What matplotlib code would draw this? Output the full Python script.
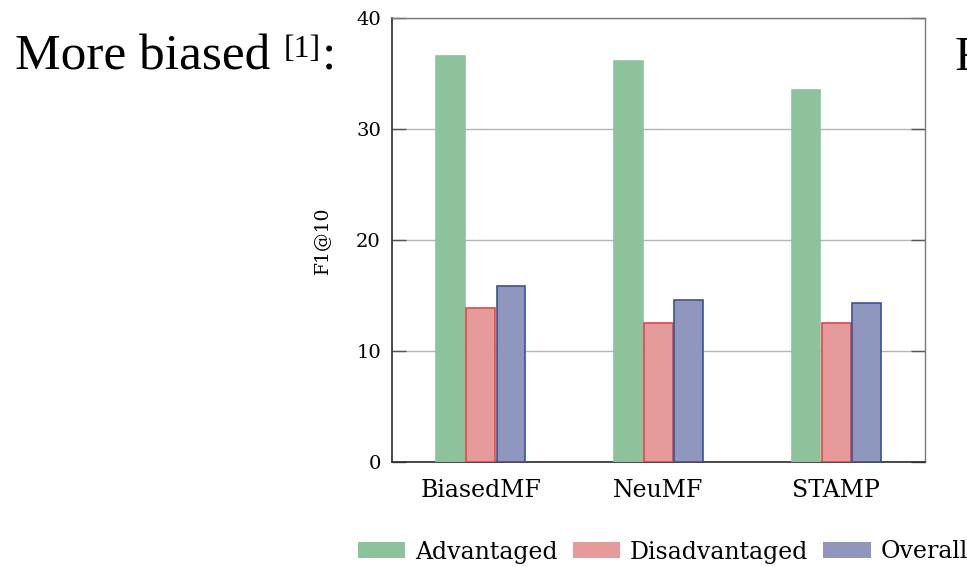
import numpy as np
import matplotlib
matplotlib.use("Agg")
import matplotlib.pyplot as plt
from matplotlib.patches import Patch

# Data
models = ["BiasedMF", "NeuMF", "STAMP"]
series_names = ["Advantaged", "Disadvantaged", "Overall"]
advantaged = [36.6, 36.1, 33.5]
disadvantaged = [13.85, 12.55, 12.55]
overall = [15.85, 14.6, 14.35]
yticks = [0, 10, 20, 30, 40]

fills = ["#8dc39a", "#e69b9b", "#9097be"]
edges = ["#8dc39a", "#e0474c", "#3b5194"]

W, H, DPI = 967, 567, 100
fig = plt.figure(figsize=(W / DPI, H / DPI), dpi=DPI)

ax = fig.add_axes([392 / W, 1 - 462 / H, (925 - 392) / W, (462 - 18) / H])

x = np.arange(len(models))
bw = 0.162
off = 0.17
for i, vals in enumerate([advantaged, disadvantaged, overall]):
    ax.bar(x + (i - 1) * off, vals, width=bw, color=fills[i],
           edgecolor=edges[i], linewidth=1.2, zorder=3)

ax.set_xlim(-0.5, 2.5)
ax.set_ylim(0, 40)
ax.set_yticks(yticks)
ax.set_yticklabels([str(v) for v in yticks], family="DejaVu Serif", fontsize=14)
ax.set_xticks(x)
ax.set_xticklabels(models, family="DejaVu Serif", fontsize=17)
ax.tick_params(axis="x", length=0, pad=12)
ax.tick_params(axis="y", direction="in", length=10, width=1.0, color="#555555",
               right=True, left=True, pad=8)
ax.grid(axis="y", color="#b5b5b5", linewidth=1.0, zorder=0)
ax.set_axisbelow(True)

ax.set_ylabel("F1@10", family="DejaVu Serif", fontsize=13.5, labelpad=18)

for side in ["left", "bottom"]:
    ax.spines[side].set_color("#2a2a2a")
    ax.spines[side].set_linewidth(1.2)
for side in ["top", "right"]:
    ax.spines[side].set_color("#7a7a7a")
    ax.spines[side].set_linewidth(1.0)

handles = [Patch(facecolor=c, edgecolor="none") for c in fills]
fig.legend(handles, series_names, loc="center",
           bbox_to_anchor=(663 / W, 1 - 552 / H), ncol=3, frameon=False,
           prop={"family": "DejaVu Serif", "size": 17},
           handlelength=2.0, handleheight=0.64, handletextpad=0.42,
           columnspacing=0.64, borderpad=0, borderaxespad=0)

# Heading text with a superscript citation
fig.canvas.draw()
renderer = fig.canvas.get_renderer()
base_y = 1 - 70 / H
t1 = fig.text(15 / W, base_y, "More biased ", family="Liberation Serif",
              fontsize=37, va="baseline", ha="left")
bb = t1.get_window_extent(renderer)
t2 = fig.text(bb.x1 / W, 1 - 57 / H, "[1]", family="Liberation Serif",
              fontsize=23, va="baseline", ha="left")
bb2 = t2.get_window_extent(renderer)
fig.text((bb2.x1 + 2) / W, base_y, ":", family="Liberation Serif",
         fontsize=37, va="baseline", ha="left")
fig.text(955 / W, base_y, "F", family="Liberation Serif",
         fontsize=35, va="baseline", ha="left")

fig.savefig("out.png", dpi=DPI)
